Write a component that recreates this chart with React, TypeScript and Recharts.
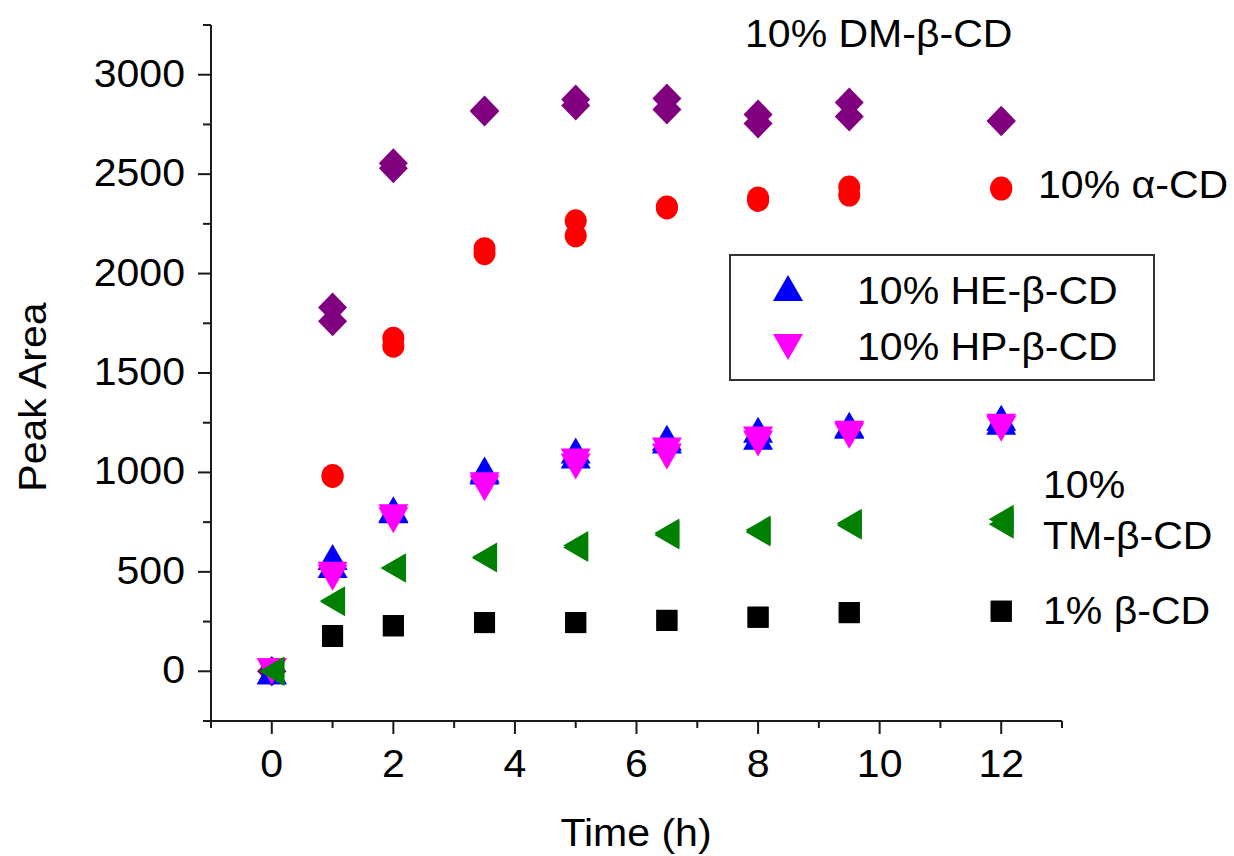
import React from "react";
import { ScatterChart, Scatter, XAxis, YAxis, Legend, Customized } from "recharts";

const hours = [0, 1, 2, 3.5, 5, 6.5, 8, 9.5, 12];

// two repeat injections per time point (run A / run B)
const dmBetaA = [0, 1830, 2555, 2820, 2875, 2880, 2800, 2860, 2767];
const dmBetaB = [0, 1760, 2530, 2815, 2845, 2825, 2755, 2790, 2767];
const alphaA = [0, 985, 1675, 2125, 2265, 2335, 2380, 2435, 2430];
const alphaB = [0, 980, 1635, 2100, 2190, 2330, 2368, 2395, 2425];
const heBetaA = [0, 575, 815, 1015, 1110, 1175, 1215, 1240, 1275];
const heBetaB = [0, 535, 810, 1005, 1085, 1160, 1180, 1235, 1255];
const hpBetaA = [0, 485, 775, 935, 1055, 1110, 1165, 1195, 1230];
const hpBetaB = [0, 470, 760, 920, 1030, 1080, 1145, 1185, 1220];
const tmBetaA = [0, 355, 520, 575, 632, 695, 710, 745, 765];
const tmBetaB = [0, 350, 520, 570, 622, 685, 700, 735, 740];
const betaA = [0, 180, 230, 245, 245, 256, 272, 295, 302];
const betaB = [0, 175, 228, 245, 245, 256, 272, 295, 302];

const xTicks = [-1, 0, 1, 2, 3, 4, 5, 6, 7, 8, 9, 10, 11, 12, 13];
const yTicks = [
  -250, 0, 250, 500, 750, 1000, 1250, 1500, 1750, 2000, 2250, 2500, 2750, 3000, 3250,
];

const FONT = "'Liberation Sans', Arial, sans-serif";
const FS = 38;
const STRETCH = 1.08; // the original's lettering is a bit wider than Arial
const AXIS = "#1a1a1a";

function points(a: number[], b: number[]) {
  const out: { t: number; v: number }[] = [];
  hours.forEach((t, i) => {
    out.push({ t, v: a[i] });
    out.push({ t, v: b[i] });
  });
  return out;
}

// text drawn with a slight horizontal stretch
function T({
  x,
  y,
  anchor = "start",
  rotate = 0,
  baseline,
  children,
}: {
  x: number;
  y: number;
  anchor?: "start" | "middle" | "end";
  rotate?: number;
  baseline?: string;
  children: React.ReactNode;
}) {
  return (
    <text
      transform={`translate(${x} ${y}) rotate(${rotate}) scale(${STRETCH} 1)`}
      textAnchor={anchor}
      dominantBaseline={baseline}
      fontSize={FS}
      fontFamily={FONT}
      fill="#000"
    >
      {children}
    </text>
  );
}

type Kind = "square" | "circle" | "diamond" | "up" | "down" | "left";

function Marker({ kind, color, cx, cy }: { kind: Kind; color: string; cx: number; cy: number }) {
  switch (kind) {
    case "square":
      return <rect x={cx - 10.5} y={cy - 10.5} width={21} height={21} fill={color} />;
    case "circle":
      return <ellipse cx={cx} cy={cy} rx={11} ry={11.5} fill={color} />;
    case "diamond":
      return (
        <polygon
          points={`${cx},${cy - 15} ${cx + 14.5},${cy} ${cx},${cy + 15} ${cx - 14.5},${cy}`}
          fill={color}
        />
      );
    case "up":
      return (
        <polygon
          points={`${cx},${cy - 13} ${cx + 15},${cy + 13} ${cx - 15},${cy + 13}`}
          fill={color}
        />
      );
    case "down":
      return (
        <polygon
          points={`${cx},${cy + 13} ${cx + 15},${cy - 13} ${cx - 15},${cy - 13}`}
          fill={color}
        />
      );
    default:
      return (
        <polygon
          points={`${cx - 12.5},${cy} ${cx + 12.5},${cy - 14.5} ${cx + 12.5},${cy + 14.5}`}
          fill={color}
        />
      );
  }
}

const shape = (kind: Kind, color: string) => (p: any) =>
  <Marker kind={kind} color={color} cx={p.cx} cy={p.cy} />;

const XTick = ({ x, y, payload }: any) => {
  const v = payload.value;
  const major = v % 2 === 0;
  return (
    <g>
      <line x1={x} x2={x} y1={y} y2={y + (major ? 13 : 7)} stroke={AXIS} strokeWidth={2} />
      {major && (
        <T x={x} y={y + 56} anchor="middle">
          {v}
        </T>
      )}
    </g>
  );
};

const YTick = ({ x, y, payload }: any) => {
  const v = payload.value;
  const major = v % 500 === 0;
  return (
    <g>
      <line x1={x} x2={x - (major ? 13 : 8)} y1={y} y2={y} stroke={AXIS} strokeWidth={2} />
      {major && (
        <T x={x - 26} y={y + 12} anchor="end">
          {v}
        </T>
      )}
    </g>
  );
};

const renderLegend = () => (
  <svg width={426} height={127} style={{ display: "block" }}>
    <rect x={1} y={1} width={424} height={125} fill="#fff" stroke="#333" strokeWidth={2} />
    <Marker kind="up" color="#0000ff" cx={59} cy={34} />
    <Marker kind="down" color="#ff00ff" cx={59} cy={93} />
    <T x={128} y={50}>10% HE-β-CD</T>
    <T x={128} y={106}>10% HP-β-CD</T>
  </svg>
);

const Labels = () => (
  <g>
    <T x={745} y={47}>10% DM-β-CD</T>
    <T x={1038} y={198}>10% α-CD</T>
    <T x={1043} y={498}>10%</T>
    <T x={1043} y={549}>TM-β-CD</T>
    <T x={1043} y={624}>1% β-CD</T>
    <T x={636} y={846} anchor="middle">
      Time (h)
    </T>
    <T x={33} y={397} anchor="middle" rotate={-90} baseline="central">
      Peak Area
    </T>
  </g>
);

export default function App() {
  return (
    <div style={{ width: 1234, height: 856, background: "#fff", fontFamily: FONT }}>
      <style>{"body{margin:0}"}</style>
      <ScatterChart width={1234} height={856} margin={{ top: 25, right: 172, left: 0, bottom: 0 }}>
        <XAxis
          type="number"
          dataKey="t"
          domain={[-1, 13]}
          ticks={xTicks}
          interval={0}
          height={135}
          tickSize={0}
          tickMargin={0}
          tickLine={false}
          axisLine={{ stroke: AXIS, strokeWidth: 2 }}
          tick={XTick}
          allowDataOverflow
        />
        <YAxis
          type="number"
          dataKey="v"
          domain={[-250, 3250]}
          ticks={yTicks}
          interval={0}
          width={211}
          tickSize={0}
          tickMargin={0}
          tickLine={false}
          axisLine={{ stroke: AXIS, strokeWidth: 2 }}
          tick={YTick}
          allowDataOverflow
        />
        <Legend
          layout="horizontal"
          verticalAlign="middle"
          align="center"
          content={renderLegend}
          wrapperStyle={{ left: 729, top: 254, width: 426, height: 127 }}
        />
        <Scatter name="1% β-CD" data={points(betaA, betaB)} shape={shape("square", "#000000")} isAnimationActive={false} />
        <Scatter name="10% α-CD" data={points(alphaA, alphaB)} shape={shape("circle", "#ff0000")} isAnimationActive={false} />
        <Scatter name="10% DM-β-CD" data={points(dmBetaA, dmBetaB)} shape={shape("diamond", "#800080")} isAnimationActive={false} />
        <Scatter name="10% HE-β-CD" data={points(heBetaA, heBetaB)} shape={shape("up", "#0000ff")} isAnimationActive={false} />
        <Scatter name="10% HP-β-CD" data={points(hpBetaA, hpBetaB)} shape={shape("down", "#ff00ff")} isAnimationActive={false} />
        <Scatter name="10% TM-β-CD" data={points(tmBetaA, tmBetaB)} shape={shape("left", "#008000")} isAnimationActive={false} />
        <Customized component={Labels} />
      </ScatterChart>
    </div>
  );
}
